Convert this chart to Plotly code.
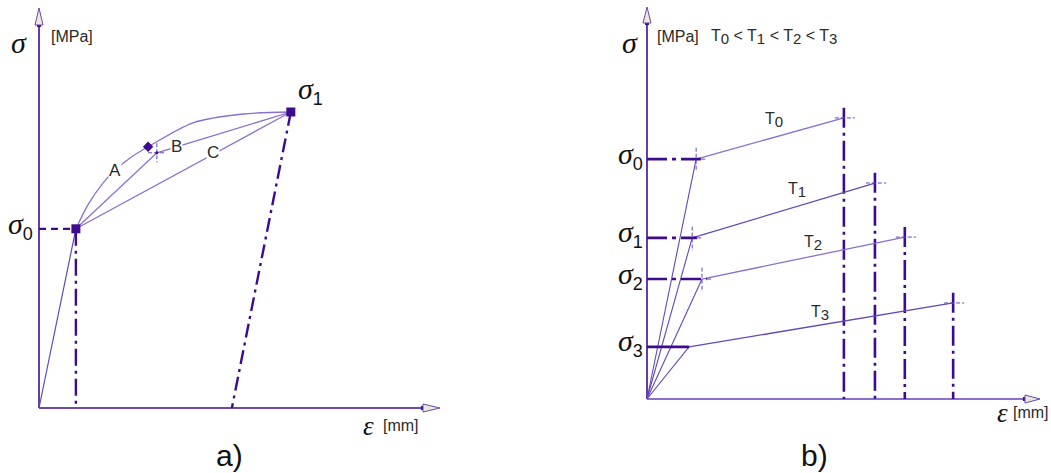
import plotly.graph_objects as go

# ---------------- a) loading paths between two yield states ----------------
A_EPS_Y0, A_SIG_Y0 = 9.2, 44.8        # initial yield point, sigma_0
A_EPS_1, A_SIG_1 = 62.8, 74.0         # final state, sigma_1
A_EPS_RES = 48.1                      # permanent strain after unloading
PATH_A_EPS = [9.2, 12.2, 16.0, 19.0, 22.7, 27.2, 38.4, 50.9, 62.8]
PATH_A_SIG = [44.8, 50.8, 56.3, 59.5, 62.5, 65.3, 71.3, 73.5, 74.0]
PATH_A_MARK = (27.2, 65.3)
PATH_B_EPS = [9.2, 29.4, 62.8]
PATH_B_SIG = [44.8, 63.8, 74.0]
PATH_C_EPS = [9.2, 62.8]
PATH_C_SIG = [44.8, 74.0]
PATH_NAMES = ["A", "B", "C"]
PATH_LABEL_EPS = [19.0, 34.2, 43.4]
PATH_LABEL_SIG = [59.5, 65.3, 63.9]

# ---------------- b) temperature dependence ----------------
TEMP_SUBS = ["0", "1", "2", "3"]
SIG_NAMES = ["0", "1", "2", "3"]
SIG_Y = [61.2, 41.1, 30.6, 13.3]      # yield stress
EPS_Y = [12.5, 11.5, 14.0, 10.7]      # yield strain
EPS_U = [50.1, 58.0, 65.6, 77.9]      # strain at end of loading
SIG_U = [71.7, 55.1, 41.3, 24.5]      # stress at end of loading
TEMP_LABEL_EPS = [32.3, 38.2, 42.2, 44.0]
TEMP_LABEL_SIG = [71.2, 53.3, 39.8, 21.9]

AX_MAX = 100.0

DARK = "#3d0c8e"
THIN = "#6447b8"
LIGHT = "#8a70cc"
TXT = "#2a2a2a"
ARROW_FILL = "#ece8d6"

W, H = 1051, 473
fig = go.Figure()


def seg(x, y, color, width, dash="solid", ax="", shape="linear", smooth=1.0):
    fig.add_trace(go.Scatter(
        x=x, y=y, mode="lines", xaxis="x" + ax, yaxis="y" + ax,
        line=dict(color=color, width=width, dash=dash, shape=shape, smoothing=smooth),
        hoverinfo="skip", showlegend=False, cliponaxis=False))


def pts(x, y, symbol, size, color, ax=""):
    fig.add_trace(go.Scatter(
        x=x, y=y, mode="markers", xaxis="x" + ax, yaxis="y" + ax,
        marker=dict(symbol=symbol, size=size, color=color, line=dict(width=0)),
        hoverinfo="skip", showlegend=False, cliponaxis=False))


def arrows(ax, head_x, head_y, half_x, half_y):
    xr, yr = "x" + ax, "y" + ax
    # vertical axis arrow
    fig.add_shape(type="path", xref=xr, yref=yr,
                  path=f"M {-half_x} {AX_MAX - head_y} L 0 {AX_MAX} L {half_x} {AX_MAX - head_y} Z",
                  fillcolor=ARROW_FILL, line=dict(color=THIN, width=1))
    # horizontal axis arrow
    fig.add_shape(type="path", xref=xr, yref=yr,
                  path=f"M {AX_MAX - head_x} {-half_y} L {AX_MAX} 0 L {AX_MAX - head_x} {half_y} Z",
                  fillcolor=ARROW_FILL, line=dict(color=THIN, width=1))
    pts([0, AX_MAX - head_x], [AX_MAX - head_y, 0], "square", 4, DARK, ax)


def text(ax, x, y, s, size=16, family="Liberation Sans", color=TXT,
         xanchor="center", yanchor="middle", bg=None, xshift=0, yshift=0):
    fig.add_annotation(xref="x" + ax, yref="y" + ax,
                       x=x, y=y, text=s, showarrow=False,
                       font=dict(size=size, family=family, color=color),
                       xanchor=xanchor, yanchor=yanchor, xshift=xshift, yshift=yshift,
                       bgcolor=bg, borderpad=0)


def sub(s, px):
    return f'<sub><span style="font-size:{px}px">{s}</span></sub>'


def sigma(s):
    out = '<i>σ</i>'
    if s:
        out += f'<sub><span style="font-family:Liberation Sans;font-size:18px">{s}</span></sub>'
    return out


def temp(s):
    return "T" + sub(s, 15)


# ---------- panel a ----------
seg([0, AX_MAX - 4.2], [0, 0], DARK, 1.6)
seg([0, 0], [0, AX_MAX - 4.2], DARK, 1.6)
arrows("", 4.24, 4.25, 1.0, 1.0)

seg([0, A_EPS_Y0], [0, A_SIG_Y0], THIN, 1.2)
seg([0, A_EPS_Y0], [A_SIG_Y0, A_SIG_Y0], DARK, 2.2, "7px,5px")
seg([A_EPS_Y0, A_EPS_Y0], [A_SIG_Y0, 0], DARK, 2.4, "17px,5px,3px,5px")
seg([A_EPS_1, A_EPS_RES], [A_SIG_1, 0], DARK, 2.4, "14px,5px,3px,5px")

seg(PATH_A_EPS, PATH_A_SIG, LIGHT, 1.3, shape="spline", smooth=0.8)
seg(PATH_B_EPS, PATH_B_SIG, LIGHT, 1.3)
seg(PATH_C_EPS, PATH_C_SIG, LIGHT, 1.3)

# corner of path B
bx, by = PATH_B_EPS[1], PATH_B_SIG[1]
seg([bx - 2.2, bx + 2.2], [by, by], THIN, 1, "4px,2px")
seg([bx, bx], [by + 2.4, by - 2.4], THIN, 1, "4px,2px")
pts([bx], [by], "circle", 3, DARK)
pts([PATH_A_MARK[0]], [PATH_A_MARK[1]], "diamond", 8, DARK)
pts([A_EPS_Y0, A_EPS_1], [A_SIG_Y0, A_SIG_1], "square", 9, DARK)

for nm, lx, ly in zip(PATH_NAMES, PATH_LABEL_EPS, PATH_LABEL_SIG):
    text("", lx, ly, nm, size=17, bg="white")

text("", -5.0, 91.3, sigma(""), size=30, family="Liberation Serif", color="#111")
text("", 2.8, 92.8, "[MPa]", size=16, xanchor="left")
text("", -1.2, A_SIG_Y0, sigma("0"), size=30, family="Liberation Serif",
     color="#111", xanchor="right", yshift=3)
text("", A_EPS_1 + 1.5, A_SIG_1 + 0.6, sigma("1"), size=30, family="Liberation Serif",
     color="#111", xanchor="left", yanchor="bottom")
text("", 82.2, -4.6, '<i>ε</i>', size=27, family="Liberation Serif", color="#111")
text("", 85.6, -4.4, "[mm]", size=16, xanchor="left")
text("", 47.4, -11.8, "a)", size=30, color="#111")

# ---------- panel b ----------
seg([0, AX_MAX - 3.8], [0, 0], LIGHT, 2.0, ax="2")
seg([0, 0], [0, AX_MAX - 4.1], DARK, 1.6, ax="2")
arrows("2", 3.82, 4.08, 1.02, 1.02)

for i in range(4):
    ey, sy, eu, su = EPS_Y[i], SIG_Y[i], EPS_U[i], SIG_U[i]
    # elastic branch and hardening branch
    seg([0, ey], [0, sy], THIN, 1.1, ax="2")
    seg([ey, eu], [sy, su], LIGHT if i % 2 == 0 else THIN, 1.3, ax="2")
    # yield stress level
    if i < 3:
        seg([0, ey + 1.2], [sy, sy], DARK, 2.6, "20px,5px,4px,5px", ax="2")
        seg([ey + 1.2, ey + 2.3], [sy, sy], THIN, 1, ax="2")
        seg([ey, ey], [sy + 2.9, sy - 3.3], THIN, 1, "4px,2px", ax="2")
    else:
        seg([0, ey], [sy, sy], DARK, 2.6, ax="2")
    # end of loading
    seg([eu, eu], [su + 2.6, 0], DARK, 2.6, "20px,5px,3px,5px", ax="2")
    seg([eu - 2.3, eu + 2.8], [su, su], THIN, 1, "4px,2px", ax="2")
    text("2", TEMP_LABEL_EPS[i], TEMP_LABEL_SIG[i], temp(TEMP_SUBS[i]), size=16)
    text("2", -0.8, sy, sigma(SIG_NAMES[i]), size=30, family="Liberation Serif",
         color="#111", xanchor="right", yshift=4)

text("2", -4.4, 91.0, sigma(""), size=30, family="Liberation Serif", color="#111")
text("2", 2.4, 92.4, "[MPa]", size=16, xanchor="left")
text("2", 16.0, 92.4, " &lt; ".join(temp(s) for s in TEMP_SUBS), size=16, xanchor="left")
text("2", 90.4, -3.6, '<i>ε</i>', size=27, family="Liberation Serif", color="#111")
text("2", 92.8, -3.4, "[mm]", size=16, xanchor="left")
text("2", 42.5, -14.4, "b)", size=30, color="#111")


# pixel-aligned axes: panel a origin at (39, 408), panel b origin at (647, 399)
def ax_range(origin_px, px_per_unit, lo_px, hi_px):
    return [(lo_px - origin_px) / px_per_unit, (hi_px - origin_px) / px_per_unit]


hidden = dict(showgrid=False, zeroline=False, showline=False, showticklabels=False,
              ticks="", fixedrange=True)
fig.update_layout(
    width=W, height=H, margin=dict(l=0, r=0, t=0, b=0),
    paper_bgcolor="white", plot_bgcolor="white",
    xaxis=dict(domain=[0, 0.5], range=ax_range(39, 4.01, 0, W / 2), **hidden),
    yaxis=dict(domain=[0, 1], range=[(408 - H) / 4.0, 408 / 4.0], **hidden),
    xaxis2=dict(domain=[0.5, 1], anchor="y2", range=ax_range(647, 3.93, W / 2, W), **hidden),
    yaxis2=dict(domain=[0, 1], anchor="x2", range=[(399 - H) / 3.92, 399 / 3.92], **hidden),
)

fig.write_html("out.html")
